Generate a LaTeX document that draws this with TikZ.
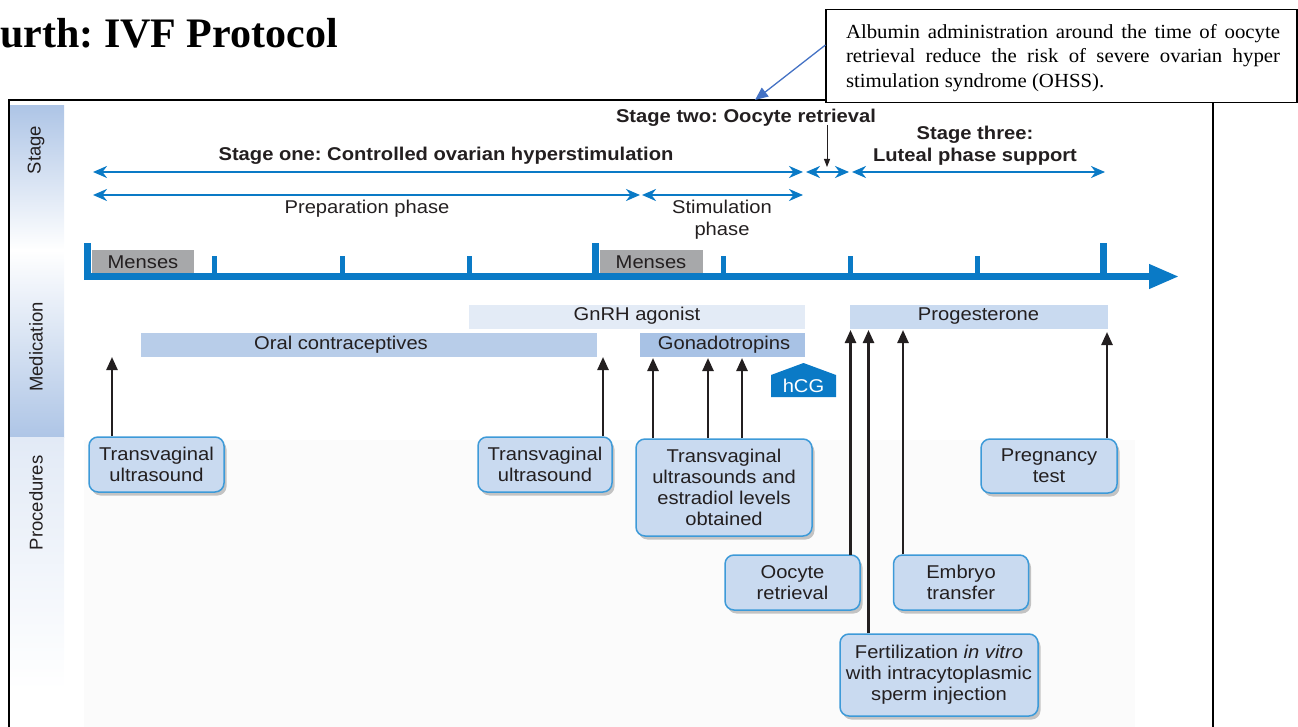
\documentclass[tikz,border=0pt]{standalone}
\usepackage{fontspec}
\setmainfont{Liberation Sans}
\newfontfamily\lsans[FakeStretch=1.09]{Liberation Sans}
\newfontfamily\lserif[FakeStretch=1.04]{Liberation Serif}
\newfontfamily\ttlfont{Liberation Serif}
\usetikzlibrary{arrows.meta,shadows}
\definecolor{tlblue}{HTML}{0A7AC6}
\definecolor{boxfill}{HTML}{C9DAF0}
\definecolor{boxline}{HTML}{3D9AD8}
\definecolor{txt}{HTML}{231F20}
\definecolor{ocfill}{HTML}{B8CDE9}
\definecolor{gnfill}{HTML}{E3EBF6}
\definecolor{gofill}{HTML}{A8C2E5}
\definecolor{prfill}{HTML}{C9DAF0}
\definecolor{mensgray}{HTML}{A7A8AA}
\definecolor{sidebl}{HTML}{AEC5E6}
\definecolor{sidepale}{HTML}{E2EAF6}
\definecolor{calblue}{HTML}{4472C4}
\definecolor{procbg}{HTML}{FBFBFB}
\frenchspacing
\begin{document}
\begin{tikzpicture}[x=1pt,y=-1pt,
  lbl/.style={font=\lsans\fontsize{18.5}{21}\selectfont, text=txt, align=center, inner sep=0pt},
  blbl/.style={font=\lsans\bfseries\fontsize{18.5}{22}\selectfont, text=txt, align=center, inner sep=0pt},
  sidelbl/.style={font=\fontsize{18.5}{21}\selectfont, text=txt, rotate=90, inner sep=0pt},
  procbox/.style={draw=boxline, line width=1.5pt, fill=boxfill, rounded corners=9pt,
     drop shadow={shadow xshift=2.5pt,shadow yshift=-3.5pt,opacity=0.22,fill=black},
     font=\lsans\fontsize{18.5}{21}\selectfont, text=txt, align=center, inner sep=0pt},
  medbar/.style={inner sep=0pt, draw=none},
  stagearr/.style={tlblue, line width=2.2pt, {Stealth[length=14pt,width=12pt,inset=4.5pt]}-{Stealth[length=14pt,width=12pt,inset=4.5pt]}},
  procarr/.style={txt, line width=2.4pt, -{Triangle[length=13pt,width=11pt]}},
  tallbar/.style={fill=tlblue, draw=none},
]
\useasboundingbox (0,0) rectangle (1298,727);

% title
\node[anchor=base west, font=\ttlfont\bfseries\fontsize{42}{50}\selectfont, inner sep=0pt] (title) at (0,48) {urth: IVF Protocol};

% procedures background
\fill[procbg] (84,440) rectangle (1135,727);

% sidebar
\shade[top color=sidebl, bottom color=white] (10,106) rectangle (64,250);
\shade[top color=white, bottom color=sidebl] (10,250) rectangle (64,437);
\shade[top color=sidepale, bottom color=white] (10,437) rectangle (64,690);
\node[sidelbl] (sStage) at (36,150) {Stage};
\node[sidelbl] (sMed) at (36,347) {Medication};
\node[sidelbl] (sProc) at (36,503) {Procedures};

% frame
\draw[black, line width=1.3pt] (9,727) -- (9,100) -- (1213,100) -- (1213,727);

% stage headings
\node[blbl] (st1) at (446,156) {Stage one: Controlled ovarian hyperstimulation};
\node[blbl] (st2) at (746,118) {Stage two: Oocyte retrieval};
\node[blbl] (st3) at (975,146) {Stage three:\\Luteal phase support};
\coordinate (s1l) at (93,172);
\coordinate (s1r) at (803,172);
\coordinate (s2l) at (806,172);
\coordinate (s2r) at (849,172);
\coordinate (s3l) at (852,172);
\coordinate (s3r) at (1105,172);
\draw[stagearr] (s1l) -- (s1r);
\draw[stagearr] (s2l) -- (s2r);
\draw[stagearr] (s3l) -- (s3r);
\coordinate (s2mid) at (827,167);
\draw[txt, line width=0.9pt, -{Triangle[length=8pt,width=6pt]}] (st2.south -| s2mid) ++(0,-2) -- (s2mid);

% phases
\coordinate (p1l) at (93,195);
\coordinate (p1r) at (640,195);
\coordinate (p2l) at (642,195);
\coordinate (p2r) at (803,195);
\draw[stagearr] (p1l) -- (p1r);
\draw[stagearr] (p2l) -- (p2r);
\node[lbl] (prep) at (367,209) {Preparation phase};
\node[lbl, font=\lsans\fontsize{18.5}{22}\selectfont] (stim) at (722,220) {Stimulation\\phase};

% timeline
\draw[tlblue, line width=7pt, -{Triangle[length=30pt,width=23pt]}] (84,276.5) -- (1179,276.5);
\fill[tallbar] (84,243) rectangle (91,280);
\fill[tallbar] (592,243) rectangle (599,280);
\fill[tallbar] (1100,243) rectangle (1107,280);
\foreach \tx in {214,342,469,723,850,977}{
  \fill[tallbar] (\tx-2.5,256) rectangle (\tx+2.5,276);
}
\node[medbar, fill=mensgray, minimum width=102, minimum height=23] (men1) at (143,261.5) {};
\node[lbl, text=txt] (men1t) at (143,262) {Menses};
\node[medbar, fill=mensgray, minimum width=103, minimum height=23] (men2) at (651.5,261.5) {};
\node[lbl, text=txt] (men2t) at (651,262) {Menses};

% medication bars
\node[medbar, fill=gnfill, minimum width=336, minimum height=24] (gnbar) at (637,317) {};
\node[lbl] (gnt) at (637,316) {GnRH agonist};
\node[medbar, fill=ocfill, minimum width=456, minimum height=24] (ocbar) at (369,345) {};
\node[lbl] (oct) at (341,345) {Oral contraceptives};
\node[medbar, fill=gofill, minimum width=165, minimum height=24] (gobar) at (722.5,345) {};
\node[lbl] (got) at (724,345) {Gonadotropins};
\node[medbar, fill=prfill, minimum width=258, minimum height=24] (prbar) at (979,317) {};
\node[lbl] (prt) at (978.5,316) {Progesterone};

% hCG
\fill[tlblue] (771,397) -- (771,375) -- (803.5,363) -- (836,375) -- (836,397) -- cycle;
\node[lbl, text=white] (hcg) at (803.5,386) {hCG};

% procedure boxes
\node[procbox, minimum width=135, minimum height=55] (tv1) at (156.5,464.5) {Transvaginal\\ultrasound};
\node[procbox, minimum width=134, minimum height=55] (tv2) at (545,464.5) {Transvaginal\\ultrasound};
\node[procbox, minimum width=176, minimum height=97] (tv3) at (724,487.5) {Transvaginal\\ultrasounds and\\estradiol levels\\obtained};
\node[procbox, minimum width=136, minimum height=54] (preg) at (1049,466) {Pregnancy\\test};
\node[procbox, minimum width=135, minimum height=55] (oocy) at (792.5,582.5) {Oocyte\\retrieval};
\node[procbox, minimum width=135, minimum height=55] (embr) at (961,582.5) {Embryo\\transfer};
\node[procbox, minimum width=198, minimum height=82] (fert) at (939,675) {Fertilization \textit{in vitro}\\with intracytoplasmic\\sperm injection};

% procedure arrows
\coordinate (a1) at (112,357);
\coordinate (a2) at (603,357);
\coordinate (g1) at (653,358);
\coordinate (g2) at (708,358);
\coordinate (g3) at (742,358);
\coordinate (q1) at (850.5,330);
\coordinate (q2) at (868.5,330);
\coordinate (q3) at (903,330);
\coordinate (q4) at (1107,332);
\draw[procarr] (tv1.north -| a1) -- (a1);
\draw[procarr] (tv2.north -| a2) -- (a2);
\draw[procarr] (tv3.north -| g1) -- (g1);
\draw[procarr] (tv3.north -| g2) -- (g2);
\draw[procarr] (tv3.north -| g3) -- (g3);
\draw[procarr] ([yshift=-0.8pt]oocy.north -| q1) -- (q1);
\draw[procarr] (fert.north -| q2) -- (q2);
\draw[procarr] (embr.north -| q3) -- (q3);
\draw[procarr] (preg.north -| q4) -- (q4);

% callout
\node[draw=black, line width=1.1pt, fill=white, minimum width=471, minimum height=93, inner sep=0pt] (callout) at (1061.5,56) {};
\node[font=\lserif\fontsize{20}{24.5}\selectfont, align=left, inner sep=0pt] (caltext) at (1063,58)
  {\makebox[434pt][s]{Albumin administration around the time of oocyte}\\
   \makebox[434pt][s]{retrieval reduce the risk of severe ovarian hyper}\\
   \makebox[434pt][l]{stimulation syndrome (OHSS).}};
\coordinate (caltip) at (755,100);
\draw[calblue, line width=1.3pt, -{Triangle[length=13pt,width=11pt]}] ([yshift=11pt]callout.west) -- (caltip);
\end{tikzpicture}
\end{document}
